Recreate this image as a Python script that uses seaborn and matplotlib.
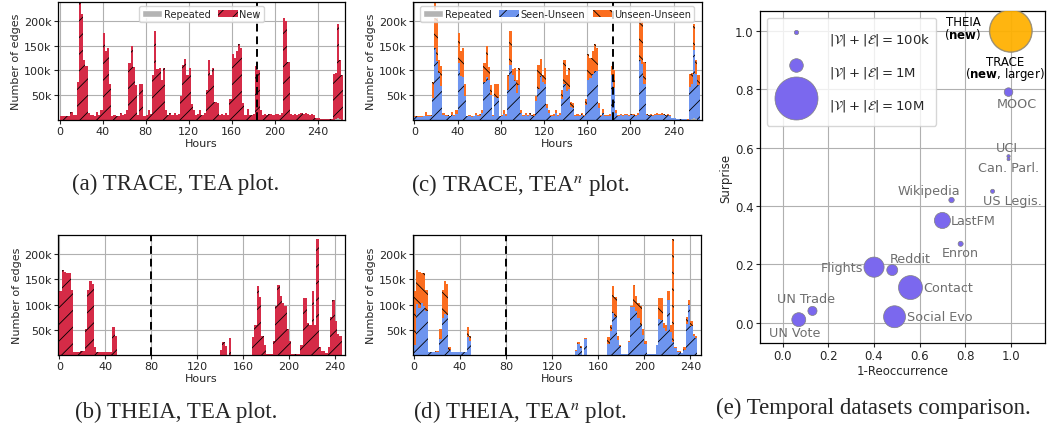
import numpy as np
import pandas as pd
import seaborn as sns
from matplotlib import pyplot as plt
from matplotlib.patches import Patch
from matplotlib.ticker import FuncFormatter

sns.set_style("ticks")
plt.rcParams['font.family'] = ['DejaVu Sans']
plt.rcParams['hatch.linewidth'] = 0.6
plt.rcParams['axes.edgecolor'] = 'black'

# ---------------- TRACE: edges per 2-hour bin (thousands) ----------------
trace_hours = np.arange(0, 264, 2)
trace_new = [8, 8, 8, 8, 9, 17, 10, 10, 77, 250, 213, 121, 108, 14, 10, 10, 9, 17, 10, 20,
             176, 139, 145, 72, 9, 10, 8, 9, 14, 10, 12, 20, 115, 149, 106, 70, 10, 73, 73, 9,
             10, 20, 12, 90, 179, 103, 105, 80, 105, 20, 10, 14, 10, 15, 10, 12, 48, 110, 124, 91,
             104, 33, 20, 10, 12, 21, 10, 15, 60, 122, 90, 105, 36, 35, 10, 12, 10, 15, 10, 43,
             133, 125, 140, 154, 145, 35, 10, 22, 10, 10, 12, 108, 100, 20, 10, 12, 10, 12, 12, 10,
             12, 12, 10, 14, 206, 200, 116, 12, 10, 12, 10, 12, 14, 12, 14, 12, 10, 12, 10, 5,
             5, 3, 3, 3, 3, 3, 2, 93, 93, 189, 118, 90]
trace_seen_unseen = [7, 7, 7, 7, 8, 9, 8, 9, 45, 145, 120, 95, 68, 10, 8, 9, 8, 10, 8, 12,
                     115, 88, 87, 48, 8, 8, 7, 8, 10, 8, 9, 14, 77, 87, 80, 50, 8, 47, 45, 8,
                     8, 12, 9, 60, 110, 90, 78, 55, 70, 15, 8, 10, 8, 10, 8, 9, 38, 62, 88, 76,
                     72, 25, 15, 8, 9, 14, 8, 10, 42, 72, 58, 62, 26, 25, 8, 9, 8, 10, 8, 30,
                     80, 85, 92, 98, 98, 25, 8, 15, 8, 8, 9, 90, 65, 15, 8, 10, 8, 10, 10, 8,
                     10, 10, 8, 10, 122, 113, 73, 10, 8, 10, 8, 10, 11, 10, 11, 10, 8, 10, 8, 4,
                     4, 2, 2, 2, 2, 2, 1, 67, 70, 138, 90, 70]
trace_rep_hours = [256, 258, 260]
trace_rep = [2, 4, 3]

# ---------------- THEIA: edges per 2-hour bin (thousands) ----------------
theia_hours = np.arange(0, 246, 2)
theia_new = ([127, 168, 165, 163, 163, 128, 5, 5, 5, 8, 8, 52, 128, 147, 140, 15,
              6, 6, 6, 6, 6, 6, 6, 55, 38] + [0] * 45 + [10, 26, 18, 0, 34] + [0] * 9 +
             [36, 60, 137, 115, 38, 20, 2, 2, 2, 28, 98, 139, 117, 103, 98, 52, 27, 2, 2, 2, 2,
              20, 114, 114, 63, 60, 127, 60, 230, 15, 7, 7, 3, 15, 75, 110, 67, 42, 38])
theia_seen_unseen = ([20, 101, 93, 103, 97, 88, 5, 5, 5, 6, 5, 32, 73, 81, 80, 10,
                      6, 6, 6, 6, 6, 6, 6, 35, 27] + [0] * 45 + [7, 21, 13, 0, 32] + [0] * 9 +
                     [21, 48, 83, 75, 30, 17, 2, 2, 2, 25, 95, 95, 87, 73, 60, 40, 21, 2, 2, 2, 2,
                      19, 72, 70, 53, 47, 110, 45, 25, 13, 5, 5, 3, 10, 61, 100, 57, 37, 33])
theia_rep_hours = []
theia_rep = []

# ---------------- dataset comparison ----------------
ds_names = ["UN Vote", "UN Trade", "Flights", "Reddit", "Contact", "Social Evo", "LastFM",
            "Enron", "Wikipedia", "US Legis.", "UCI", "Can. Parl.", "MOOC"]
ds_reocc = [0.07, 0.13, 0.40, 0.48, 0.56, 0.49, 0.70, 0.78, 0.74, 0.92, 0.99, 0.99, 0.99]
ds_surprise = [0.01, 0.04, 0.19, 0.18, 0.12, 0.02, 0.35, 0.27, 0.42, 0.45, 0.57, 0.56, 0.79]
ds_size = [1.05, 0.45, 2.2, 0.65, 3.1, 2.6, 1.4, 0.14, 0.16, 0.09, 0.06, 0.05, 0.40]  # |V|+|E| in M
ds_label_offsets = [(-3, -9.5), (-5, 9), (-8, 0), (13, 8.5), (9, 0), (9, 0), (6, 0),
                    (0, -6), (-16, 7), (14, -6.5), (-1, 6.5), (0, -6), (6, -8)]
ds_label_ha = ["center", "center", "right", "center", "left", "left", "left",
               "center", "center", "center", "center", "center", "center"]
new_names = ["TRACE", "THEIA"]
new_size = [13.5, 9.5]

RED = '#d52b47'
BLUE = '#6e95ef'
ORANGE = '#fb6d1f'
GRAY = '#b4b4b4'


def full(hours, rep_hours, rep):
    out = np.zeros(len(hours))
    for h, v in zip(rep_hours, rep):
        out[list(hours).index(h)] = v
    return out


def tea_panel(ax, hours, stacks, xlim, cut):
    for vals, color, hatch in stacks:
        d = pd.DataFrame({"hour": hours, "edges": vals})
        # one filled step polygon per layer, so the hourly bins join up seamlessly
        sns.histplot(data=d, x="hour", weights="edges", binwidth=2,
                     binrange=(hours[0], hours[-1] + 2), element="step", fill=True,
                     color=color, alpha=1, hatch=hatch, edgecolor='black', linewidth=0, ax=ax)
    ax.axvline(cut, color='black', ls='--', lw=1.4, dashes=(4, 2.5))
    ax.set_xlim(*xlim)
    ax.set_ylim(0, 238)
    ax.set_yticks([50, 100, 150, 200])
    ax.yaxis.set_major_formatter(FuncFormatter(lambda v, p: f"{v:.0f}k"))
    ax.set_xticks(range(0, 241, 40))
    ax.grid(True, color='#b0b0b0', lw=0.8)
    ax.set_axisbelow(True)
    ax.set_xlabel("Hours", fontsize=8, labelpad=1)
    ax.set_ylabel("Number of edges", fontsize=8, labelpad=2)
    ax.tick_params(labelsize=8, length=3, width=0.8, pad=1.5)
    for s in ax.spines.values():
        s.set_visible(True)
        s.set_linewidth(0.9)


fig = plt.figure(figsize=(10.47, 4.35), dpi=100)
ax_a = fig.add_axes([0.0554, 0.7218, 0.2741, 0.2713])
ax_c = fig.add_axes([0.3942, 0.7218, 0.2760, 0.2713])
ax_b = fig.add_axes([0.0557, 0.1816, 0.2738, 0.2759])
ax_d = fig.add_axes([0.3942, 0.1816, 0.2751, 0.2759])
ax_e = fig.add_axes([0.7259, 0.2092, 0.2722, 0.7632])

# TRACE
t_rep = full(trace_hours, trace_rep_hours, trace_rep)
t_new = np.array(trace_new)
t_su = np.array(trace_seen_unseen)
tea_panel(ax_a, trace_hours, [(t_rep + t_new, RED, '//'), (t_rep, GRAY, None)], (-1.5, 265.5), 184)
tea_panel(ax_c, trace_hours, [(t_rep + t_new, ORANGE, '\\\\'), (t_rep + t_su, BLUE, '//'),
                              (t_rep, GRAY, None)], (-1.5, 266), 184)

# THEIA
h_rep = full(theia_hours, theia_rep_hours, theia_rep)
h_new = np.array(theia_new)
h_su = np.array(theia_seen_unseen)
tea_panel(ax_b, theia_hours, [(h_rep + h_new, RED, '//'), (h_rep, GRAY, None)], (-1, 249), 80)
tea_panel(ax_d, theia_hours, [(h_rep + h_new, ORANGE, '\\\\'), (h_rep + h_su, BLUE, '//'),
                              (h_rep, GRAY, None)], (-1, 249), 80)

# legends on the TRACE panels
leg_kw = dict(loc='upper center', fontsize=7, borderpad=0.3, handletextpad=0.2,
              handlelength=2.0, columnspacing=0.8, borderaxespad=0.4)
ax_a.legend([Patch(facecolor=GRAY), Patch(facecolor=RED, hatch='//', edgecolor='black', lw=0)],
            ["Repeated", "New"], ncol=2, **leg_kw)
ax_c.legend([Patch(facecolor=GRAY), Patch(facecolor=BLUE, hatch='//', edgecolor='black', lw=0),
             Patch(facecolor=ORANGE, hatch='\\\\', edgecolor='black', lw=0)],
            ["Repeated", "Seen-Unseen", "Unseen-Unseen"], ncol=3, **leg_kw)

# ---------------- (e) dataset comparison ----------------
df = pd.DataFrame({"name": ds_names, "x": ds_reocc, "y": ds_surprise, "size": ds_size})
sns.scatterplot(data=df, x="x", y="y", size="size", sizes=(0, 960), size_norm=(0, 10),
                color="mediumslateblue", edgecolor="gray", linewidth=0.5, alpha=1,
                legend=False, ax=ax_e, zorder=3)
dn = pd.DataFrame({"x": [1.0, 1.0], "y": [1.0, 1.0], "size": new_size})
sns.scatterplot(data=dn, x="x", y="y", size="size", sizes=(0, 960), size_norm=(0, 10),
                color="#ffb000", edgecolor="gray", linewidth=0.6, alpha=0.75,
                legend=False, ax=ax_e, zorder=3)
for name, x, y, off, ha in zip(ds_names, ds_reocc, ds_surprise, ds_label_offsets, ds_label_ha):
    ax_e.annotate(name, (x, y), xytext=off, textcoords='offset points', ha=ha, va='center',
                  fontsize=9.2, color='#6e6e6e', zorder=4)
ax_e.annotate("THEIA\n($\\mathbf{new}$)", (1.0, 1.0), xytext=(-21, 2), textcoords='offset points',
              ha='right', va='center', fontsize=8.5, color='black', linespacing=0.8,
              multialignment='center', zorder=4)
ax_e.annotate("TRACE\n($\\mathbf{new}$, larger)", (1.0, 1.0), xytext=(-4, -27),
              textcoords='offset points', ha='center', va='center', fontsize=8.5, color='black',
              linespacing=0.8, zorder=4)
handles = [ax_e.scatter([], [], s=960 * v / 10, color="mediumslateblue", edgecolor="gray", lw=0.5)
           for v in (0.1, 1, 10)]
labels = [r"$|\mathcal{V}| + |\mathcal{E}| = 100$k", r"$|\mathcal{V}| + |\mathcal{E}| = 1$M",
          r"$|\mathcal{V}| + |\mathcal{E}| = 10$M"]
ax_e.legend(handles, labels, loc='upper left', fontsize=9.5, handleheight=3.0, labelspacing=0.3,
            handlelength=3.5, handletextpad=0.7, borderpad=0.5, scatterpoints=1)
ax_e.set_xlim(-0.1, 1.15)
ax_e.set_ylim(-0.07, 1.068)
ax_e.set_xticks(np.arange(0, 1.01, 0.2))
ax_e.set_yticks(np.arange(0, 1.01, 0.2))
ax_e.xaxis.set_major_formatter(FuncFormatter(lambda v, p: f"{v:.1f}"))
ax_e.yaxis.set_major_formatter(FuncFormatter(lambda v, p: f"{v:.1f}"))
ax_e.grid(True, color='#b0b0b0', lw=0.8)
ax_e.set_axisbelow(True)
ax_e.set_xlabel("1-Reoccurrence", fontsize=8.5, labelpad=1)
ax_e.set_ylabel("Surprise", fontsize=8.5, labelpad=2)
ax_e.tick_params(labelsize=8.5, length=3, width=0.8, pad=1.5)
for s in ax_e.spines.values():
    s.set_linewidth(0.9)

# ---------------- captions ----------------
cap = dict(ha='center', va='center', fontsize=16.5, family='Liberation Serif', math_fontfamily='stix')
fig.text(0.168, 0.575, "(a) TRACE, TEA plot.", **cap)
fig.text(0.497, 0.575, "(c) TRACE, TEA$^n$ plot.", **cap)
fig.text(0.168, 0.053, "(b) THEIA, TEA plot.", **cap)
fig.text(0.497, 0.053, "(d) THEIA, TEA$^n$ plot.", **cap)
fig.text(0.834, 0.062, "(e) Temporal datasets comparison.", **cap)

fig.savefig("out.png", dpi=100)
